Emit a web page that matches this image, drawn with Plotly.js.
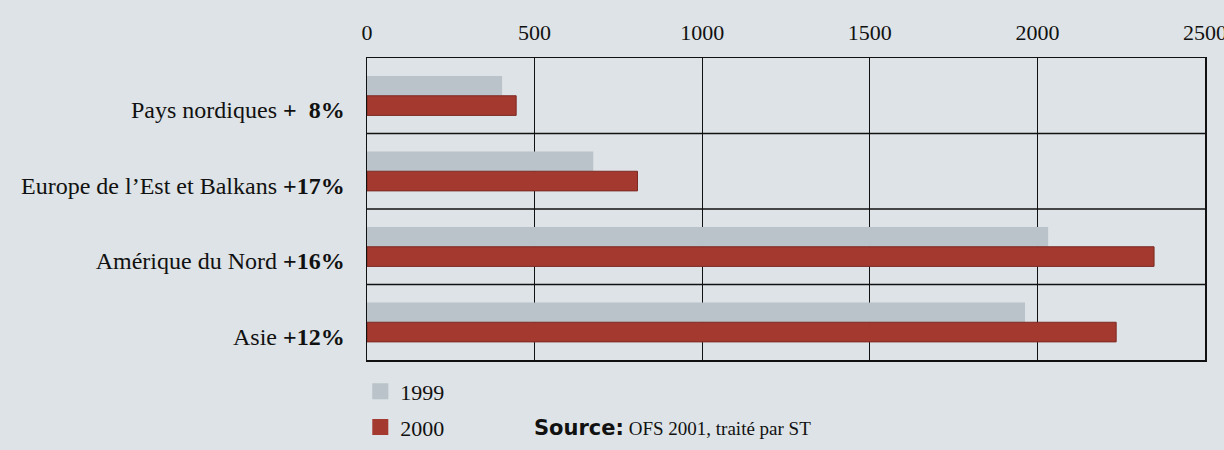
<!DOCTYPE html>
<html>
<head>
<meta charset="utf-8">
<script src="https://cdn.plot.ly/plotly-3.0.1.min.js"></script>
<style>html,body{margin:0;padding:0;background:#dde3e6;}</style>
</head>
<body>
<div id="chart" style="width:1224px;height:450px;"></div>
<script>
// Data
const regions = ["Pays nordiques", "Europe de l\u2019Est et Balkans", "Am\u00e9rique du Nord", "Asie"];
const growth = ["+\u00a0\u00a08%", "+17%", "+16%", "+12%"];
const values1999 = [403, 675, 2032, 1963];
const values2000 = [445, 807, 2348, 2235];
const seriesNames = ["1999", "2000"];
const xTicks = [0, 500, 1000, 1500, 2000, 2500];

const colGrey = "#b9c3c9";
const colRed = "#a3392f";
const serif = "Liberation Serif, Times New Roman, serif";

const tickText = regions.map((r, i) => r + " <b>" + growth[i] + "</b>");

const traces = [
  {type: "bar", orientation: "h", name: seriesNames[0], x: values1999, y: regions,
   marker: {color: colGrey}, showlegend: false},
  {type: "bar", orientation: "h", name: seriesNames[1], x: values2000, y: regions,
   marker: {color: colRed, line: {color: "#7d2a24", width: 1}}, showlegend: false},
  {type: "scatter", mode: "markers", name: seriesNames[0], x: [null], y: [null],
   marker: {symbol: "square", size: 16, color: colGrey}, legendgroup: "a", hoverinfo: "skip"},
  {type: "scatter", mode: "markers", name: seriesNames[1], x: [null], y: [null],
   marker: {symbol: "square", size: 16, color: colRed}, legendgroup: "b", hoverinfo: "skip"}
];

const shapes = regions.slice(1).map((_, i) => ({
  type: "line", xref: "paper", x0: 0, x1: 1, yref: "y", y0: i + 0.5, y1: i + 0.5,
  line: {color: "#111", width: 1.3}, layer: "above"
}));

const layout = {
  width: 1224, height: 450,
  paper_bgcolor: "#dde3e6", plot_bgcolor: "#dde3e6",
  margin: {l: 367, r: 19, t: 58, b: 90, autoexpand: false},
  font: {family: serif, size: 22, color: "#111"},
  barmode: "group", bargap: 0.48, bargroupgap: 0,
  showlegend: true,
  legend: {x: -0.008, xanchor: "left", y: -0.035, yanchor: "top", traceorder: "grouped",
           tracegroupgap: 4, font: {family: serif, size: 22, color: "#111"},
           bgcolor: "rgba(0,0,0,0)"},
  xaxis: {side: "top", range: [0, 2500], tickvals: xTicks, ticktext: xTicks.map(String),
          showgrid: true, gridcolor: "#111", gridwidth: 1.3, zeroline: false,
          showline: true, linecolor: "#111", linewidth: 1.5, mirror: true,
          ticks: "", ticklabelstandoff: 8, ticklabeloverflow: "allow", fixedrange: true},
  yaxis: {type: "category", categoryorder: "array", categoryarray: regions,
          autorange: "reversed", tickvals: regions, ticktext: tickText,
          tickfont: {family: serif, size: 24, color: "#111"},
          showgrid: false, zeroline: false, showline: true, linecolor: "#111",
          linewidth: 1.5, mirror: true, ticks: "", ticklabelstandoff: 16,
          ticklabelshift: -14, fixedrange: true},
  shapes: shapes,
  annotations: [{
    xref: "paper", yref: "paper", x: 0.197, y: -0.224, xanchor: "left", yanchor: "middle",
    showarrow: false, align: "left",
    text: "<span style=\"font-family:'DejaVu Sans',sans-serif;font-weight:bold;font-size:21px\">Source:</span> OFS 2001, trait\u00e9 par ST",
    font: {family: serif, size: 19, color: "#111"}
  }]
};

Plotly.newPlot("chart", traces, layout, {displayModeBar: false, staticPlot: true});
</script>
</body>
</html>
